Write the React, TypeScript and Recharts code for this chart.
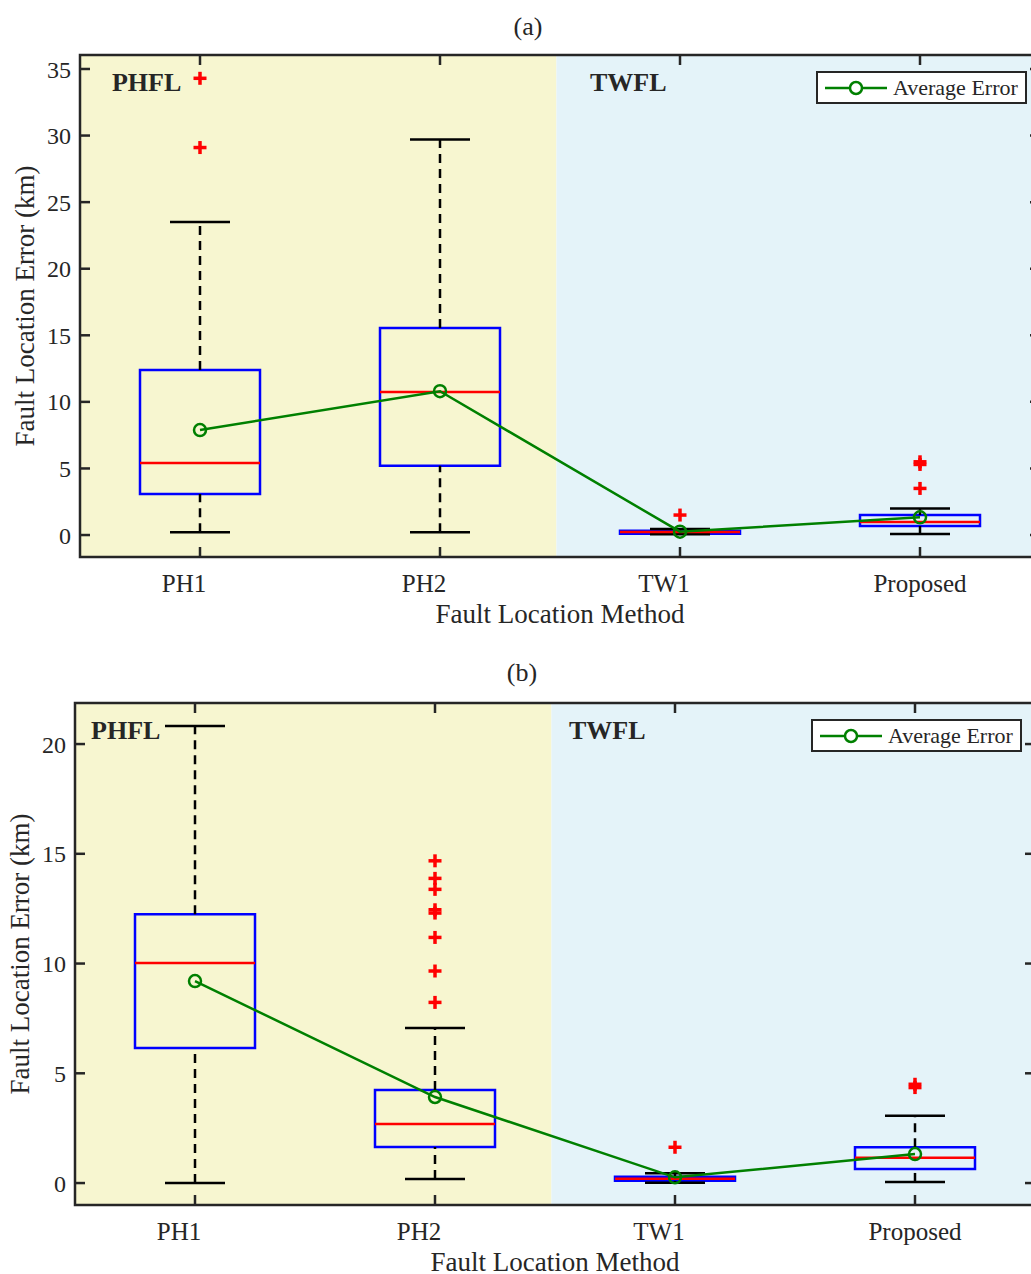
import React from "react";
import {
  ComposedChart,
  XAxis,
  YAxis,
  Line,
  Scatter,
  ReferenceArea,
  ReferenceLine,
  ReferenceDot,
  Legend,
} from "recharts";

const categories = ["PH1", "PH2", "TW1", "Proposed"];
const positions = [1, 2, 3, 4];
const regionNames = ["PHFL", "TWFL"];

// panel (a)
const lowA = [0.2, 0.2, 0.05, 0.07];
const q1A = [3.08, 5.2, 0.1, 0.68];
const medA = [5.4, 10.75, 0.22, 0.98];
const q3A = [12.4, 15.55, 0.32, 1.5];
const highA = [23.5, 29.7, 0.45, 2.0];
const meanA = [7.88, 10.8, 0.25, 1.33];
const outliersA = [[29.1, 34.3], [], [1.5], [3.5, 5.3, 5.5]];
const yTicksA = [0, 5, 10, 15, 20, 25, 30, 35];
const regionXA = [0.633, 2.625];
const regionYA = [34.0, 34.0];

// panel (b)
const lowB = [0, 0.18, 0.01, 0.05];
const q1B = [6.15, 1.64, 0.1, 0.64];
const medB = [10.02, 2.69, 0.2, 1.15];
const q3B = [12.25, 4.24, 0.29, 1.63];
const highB = [20.82, 7.06, 0.45, 3.07];
const meanB = [9.2, 3.92, 0.26, 1.32];
const outliersB = [[], [8.23, 9.66, 11.19, 12.3, 12.45, 13.38, 13.88, 14.68], [1.63], [4.35, 4.5]];
const yTicksB = [0, 5, 10, 15, 20];
const regionXB = [0.567, 2.558];
const regionYB = [20.6, 20.6];

const FONT = "'Liberation Serif', 'Times New Roman', serif";
const INK = "#262626";
const BOX_HALF = 0.25;
const CAP_HALF = 0.125;
const TICK_LEN = 10;

const Plus = (p: any) => (
  <g>
    <line x1={p.cx - 6.5} x2={p.cx + 6.5} y1={p.cy} y2={p.cy} stroke="#ff0000" strokeWidth={3.5} />
    <line x1={p.cx} x2={p.cx} y1={p.cy - 6.5} y2={p.cy + 6.5} stroke="#ff0000" strokeWidth={3.5} />
  </g>
);

const LegendBox = () => (
  <div
    style={{
      width: 211,
      height: 33,
      boxSizing: "border-box",
      border: `2px solid ${INK}`,
      background: "#fff",
      display: "flex",
      alignItems: "center",
      fontFamily: FONT,
      fontSize: 22,
      color: INK,
    }}
  >
    <svg width={70} height={20} style={{ marginLeft: 5 }}>
      <line x1={2} x2={64} y1={10} y2={10} stroke="#008000" strokeWidth={2.5} />
      <circle cx={33} cy={10} r={6} stroke="#008000" strokeWidth={2.5} fill="#fff" />
    </svg>
    <span>Average Error</span>
  </div>
);

type PanelProps = {
  low: number[];
  q1: number[];
  med: number[];
  q3: number[];
  high: number[];
  mean: number[];
  outliers: number[][];
  yDomain: [number, number];
  yTicks: number[];
  regionX: number[];
  regionY: number[];
  width: number;
  height: number;
  top: number;
  bottom: number;
  axisWidth: number;
  legendPos: { left: number; top: number };
};

const Panel = (props: PanelProps) => {
  const rows = positions.map((x, i) => ({ x, mean: props.mean[i] }));
  const outRows = positions.flatMap((x, i) => props.outliers[i].map((v) => ({ x, out: v })));
  const plotTop = props.top;
  const plotRight = props.width - 20;

  // tick labels plus inward tick marks on both opposite sides (matlab box on)
  const XTick = (p: any) => {
    const label = categories[p.payload.value - 1];
    // matlab pads the short labels, so they sit left of the tick
    const shift = label.length < 5 ? -16 : 0;
    const base = p.y - 17;
    return (
      <g>
        <line x1={p.x} x2={p.x} y1={base} y2={base - TICK_LEN} stroke={INK} strokeWidth={2.5} />
        <line x1={p.x} x2={p.x} y1={plotTop} y2={plotTop + TICK_LEN} stroke={INK} strokeWidth={2.5} />
        <text x={p.x + shift} y={p.y} dy="0.71em" textAnchor="middle" fontSize={25} fontFamily={FONT} fill={INK}>
          {label}
        </text>
      </g>
    );
  };

  const YTick = (p: any) => {
    const left = p.x + 9;
    return (
      <g>
        <line x1={left} x2={left + TICK_LEN} y1={p.y} y2={p.y} stroke={INK} strokeWidth={2.5} />
        <line x1={plotRight - TICK_LEN} x2={plotRight} y1={p.y} y2={p.y} stroke={INK} strokeWidth={2.5} />
        <text x={p.x} y={p.y} dy="0.355em" textAnchor="end" fontSize={24} fontFamily={FONT} fill={INK}>
          {p.payload.value}
        </text>
      </g>
    );
  };

  return (
    <ComposedChart
      width={props.width}
      height={props.height}
      data={rows}
      margin={{ top: props.top, right: 20, bottom: props.bottom, left: 0 }}
    >
      <ReferenceArea x1={0.5} x2={2.485} fill="#F7F6D0" fillOpacity={1} stroke="none" />
      <ReferenceArea x1={2.485} x2={4.5} fill="#E4F3F9" fillOpacity={1} stroke="none" />

      <XAxis
        dataKey="x"
        type="number"
        domain={[0.5, 4.5]}
        ticks={positions}
        tick={XTick}
        tickLine={false}
        axisLine={false}
        tickSize={0}
        tickMargin={17}
        height={75}
        label={{
          value: "Fault Location Method",
          position: "insideBottom",
          offset: 9,
          style: { fontSize: 27, fontFamily: FONT, fill: INK },
        }}
      />
      <YAxis
        type="number"
        domain={props.yDomain}
        ticks={props.yTicks}
        width={props.axisWidth}
        tickLine={false}
        axisLine={false}
        tickSize={0}
        tickMargin={9}
        tick={YTick}
        label={{
          content: (lp: any) => {
            const vb = lp.viewBox;
            const cx = props.axisWidth - 55;
            const cy = vb.y + vb.height / 2;
            return (
              <text
                x={cx}
                y={cy}
                transform={`rotate(-90 ${cx} ${cy})`}
                textAnchor="middle"
                dominantBaseline="central"
                fontSize={27}
                fontFamily={FONT}
                fill={INK}
              >
                Fault Location Error (km)
              </text>
            );
          },
        }}
      />

      {positions.map((p, i) => (
        <ReferenceLine key={`wu${i}`} segment={[{ x: p, y: props.q3[i] }, { x: p, y: props.high[i] }]}
          stroke="#000" strokeWidth={2.5} strokeDasharray="9 6" />
      ))}
      {positions.map((p, i) => (
        <ReferenceLine key={`wl${i}`} segment={[{ x: p, y: props.low[i] }, { x: p, y: props.q1[i] }]}
          stroke="#000" strokeWidth={2.5} strokeDasharray="9 6" />
      ))}
      {positions.map((p, i) => (
        <ReferenceLine key={`cu${i}`} segment={[{ x: p - CAP_HALF, y: props.high[i] }, { x: p + CAP_HALF, y: props.high[i] }]}
          stroke="#000" strokeWidth={2.5} />
      ))}
      {positions.map((p, i) => (
        <ReferenceLine key={`cl${i}`} segment={[{ x: p - CAP_HALF, y: props.low[i] }, { x: p + CAP_HALF, y: props.low[i] }]}
          stroke="#000" strokeWidth={2.5} />
      ))}
      {positions.map((p, i) => (
        <ReferenceArea key={`bx${i}`} x1={p - BOX_HALF} x2={p + BOX_HALF} y1={props.q1[i]} y2={props.q3[i]}
          fill="none" stroke="#0000ff" strokeWidth={2.5} />
      ))}
      {positions.map((p, i) => (
        <ReferenceLine key={`md${i}`} segment={[{ x: p - BOX_HALF, y: props.med[i] }, { x: p + BOX_HALF, y: props.med[i] }]}
          stroke="#ff0000" strokeWidth={2.5} />
      ))}

      {/* axes frame */}
      <ReferenceArea x1={0.5} x2={4.5} fill="none" stroke={INK} strokeWidth={2.5} />

      {regionNames.map((name, i) => (
        <ReferenceDot
          key={name}
          x={props.regionX[i]}
          y={props.regionY[i]}
          r={0}
          shape={(dp: any) => (
            <text x={dp.cx} y={dp.cy} textAnchor="start" dominantBaseline="central" fontSize={26}
              fontWeight="bold" fontFamily={FONT} fill={INK}>
              {name}
            </text>
          )}
        />
      ))}

      <Scatter data={outRows} dataKey="out" shape={<Plus />} isAnimationActive={false} legendType="none" />
      <Line
        dataKey="mean"
        name="Average Error"
        stroke="#008000"
        strokeWidth={2.5}
        dot={{ r: 6, stroke: "#008000", strokeWidth: 2.5, fill: "none" }}
        isAnimationActive={false}
      />

      <Legend
        layout="vertical"
        align="center"
        verticalAlign="middle"
        content={() => <LegendBox />}
        wrapperStyle={{ left: props.legendPos.left, top: props.legendPos.top, width: 211 }}
      />
    </ComposedChart>
  );
};

const App = () => (
  <div
    style={{
      position: "absolute",
      left: 0,
      top: 0,
      width: 1031,
      height: 1274,
      overflow: "hidden",
      background: "#fff",
      fontFamily: FONT,
    }}
  >
    <div style={{ position: "absolute", left: 0, top: 12, width: 1056, textAlign: "center", fontSize: 26, lineHeight: "30px", color: INK }}>
      (a)
    </div>
    <div style={{ position: "absolute", left: 0, top: 0 }}>
      <Panel
        low={lowA} q1={q1A} med={medA} q3={q3A} high={highA} mean={meanA} outliers={outliersA}
        yDomain={[-1.65, 36.05]} yTicks={yTicksA} regionX={regionXA} regionY={regionYA}
        width={1060} height={640} top={55} bottom={8} axisWidth={80}
        legendPos={{ left: 816, top: 71 }}
      />
    </div>
    <div style={{ position: "absolute", left: 0, top: 658, width: 1044, textAlign: "center", fontSize: 26, lineHeight: "30px", color: INK }}>
      (b)
    </div>
    <div style={{ position: "absolute", left: 0, top: 640 }}>
      <Panel
        low={lowB} q1={q1B} med={medB} q3={q3B} high={highB} mean={meanB} outliers={outliersB}
        yDomain={[-1.0, 21.87]} yTicks={yTicksB} regionX={regionXB} regionY={regionYB}
        width={1055} height={634} top={63} bottom={-6} axisWidth={75}
        legendPos={{ left: 811, top: 79 }}
      />
    </div>
  </div>
);

export default App;
